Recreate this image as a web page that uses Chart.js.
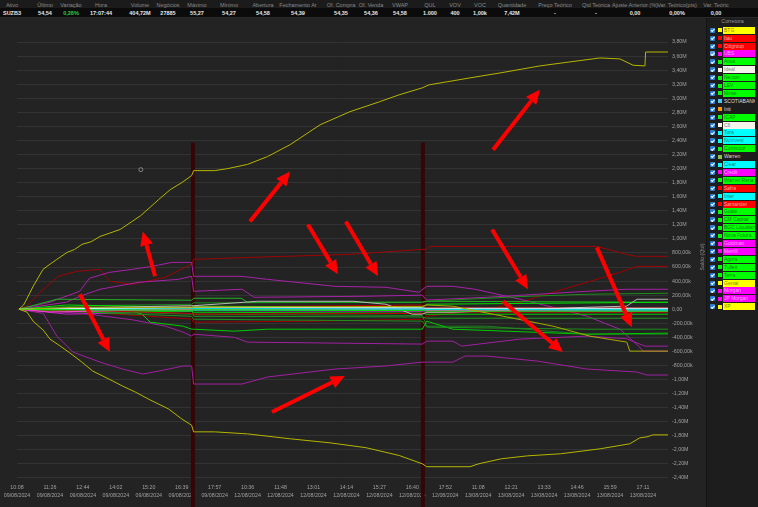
<!DOCTYPE html>
<html lang="pt-BR">
<head>
  <meta charset="UTF-8" />
  <title>SUZB3 - Saldo por Corretora</title>
  <script src="https://cdn.jsdelivr.net/npm/chart.js"></script>
  <style>
    * { box-sizing: border-box; }

    body {
      margin: 0;
      width: 758px;
      height: 507px;
      overflow: hidden;
      position: relative;
      background: #1c1c1c;
      font-family: 'Liberation Sans', Arial, sans-serif;
    }

    .quote {
      position: absolute;
      left: 0; top: 0;
      width: 758px; height: 18px;
      background: #0b0b0b;
      border-bottom: 1px solid #2a2a2a;
    }
    .quote .heads {
      position: absolute;
      left: 0; top: 0;
      width: 100%; height: 8px;
      background: #1b1b1b;
    }
    .quote span {
      position: absolute;
      transform: translateX(-50%);
      white-space: nowrap;
      font-size: 5.5px;
    }
    .quote .h { top: 1.5px; color: #8a8a8a; }
    .quote .v { top: 9.5px; color: #e6e6e6; font-weight: bold; }
    .quote .up { color: #2ecc40; }

    .chart-box {
      position: absolute;
      left: 0; top: 18px;
      width: 706px; height: 489px;
      background: #232323;
    }

    .brokers {
      position: absolute;
      left: 706px; top: 18px;
      width: 52px; height: 489px;
      background: #1d1d1d;
      border-left: 1px solid #141414;
    }
    .brokers .title {
      height: 8px;
      text-align: center;
      color: #9a9a9a;
      font-size: 5.3px;
      line-height: 7px;
    }
    .row { position: absolute; left: 0; width: 52px; height: 7px; }
    .row .cb {
      position: absolute; left: 3px; top: 1px;
      width: 5px; height: 5px;
      background: #2a7fd4; border-radius: 1px;
    }
    .row .cb::after {
      content: '';
      position: absolute; left: 1.6px; top: 0.4px;
      width: 1.2px; height: 2.6px;
      border: solid #fff; border-width: 0 0.8px 0.8px 0;
      transform: rotate(45deg);
    }
    .row .sq { position: absolute; left: 11px; top: 1.5px; width: 4px; height: 4px; }
    .row .nm {
      position: absolute; left: 16px; top: 0;
      width: 32px; height: 7px;
      padding-left: 1px;
      font-size: 5px; line-height: 7px;
      white-space: nowrap; overflow: hidden;
    }
  </style>
</head>
<body>
  <div class="quote" id="quote"><div class="heads"></div></div>
  <div class="chart-box"><canvas id="saldoChart"></canvas></div>
  <div class="brokers" id="brokers"><div class="title">Corretora</div></div>

  <script>
    // ---- quote strip ----
    const quoteHeads = ['Ativo', 'Último', 'Variação', 'Hora', 'Volume', 'Negócios', 'Máximo', 'Mínimo', 'Abertura',
      'Fechamento Ar', 'Of. Compra', 'Of. Venda', 'VWAP', 'QUL', 'VOV', 'VOC', 'Quantidade', 'Preço Teórico',
      'Qtd Teórica', 'Ajuste Anterior (%)', 'Var. Teórico(pts)', 'Var. Teóric'];
    const quoteValues = ['SUZB3', '54,54', '0,28%', '17:07:44', '404,72M', '27885', '55,27', '54,27', '54,58',
      '54,39', '54,35', '54,36', '54,58', '1.000', '400', '1,00k', '7,42M', '-', '-', '0,00', '0,00%', '0,00'];
    const quoteCols = [12, 45, 71, 101, 140, 168, 197, 229, 263, 298, 341, 371, 400, 430, 455, 480, 512, 555, 596, 635, 677, 716];

    // ---- brokers ----
    const brokerNames = ['BTG', 'Itau', 'Citigroup', 'UBS', 'Ativa', 'Ideal', 'Necton', 'LEV', 'Mirae', 'SCOTIABANK',
      'Inti', 'ICAP', 'C6', 'Tora', 'NuInvest', 'Commcor', 'Warren', 'Clear', 'Credit', 'Warren Rena', 'Safra',
      'Inter', 'Santander', 'Guide', 'CM Capital', 'BGC Liquidez', 'Nova Futura', 'Goldman', 'Merrill', 'Agora',
      'Tullett', 'Terra', 'Genial', 'Morgan', 'JP Morgan', 'XP'];
    const brokerColors = ['#ffff00', '#ff0000', '#ff0000', '#ff00ff', '#00ff00', '#f4f4ec', '#00ff00', '#00ff00', '#00ff00', '#4fc3f7',
      '#ff9800', '#00ff00', '#f4f4ec', '#00ffff', '#00ffff', '#00ff00', '#8bc34a', '#00ffff', '#ff00ff', '#00ff00', '#ff0000',
      '#00ffff', '#ff0000', '#00ff00', '#00ff00', '#00ff00', '#00ff00', '#ff00ff', '#ff00ff', '#00ff00',
      '#00ff00', '#00ff00', '#ffff00', '#ff00ff', '#ff00ff', '#ffff00'];
    const plainRows = ['SCOTIABANK', 'Inti', 'Warren'];

    // ---- axes ----
    const xTickTimes = ['10:08', '11:26', '12:44', '14:02', '15:20', '16:39', '17:57', '10:36', '11:48', '13:01',
      '14:14', '15:27', '16:40', '17:52', '11:08', '12:21', '13:33', '14:46', '15:59', '17:11'];
    const xTickDates = ['09/08/2024', '09/08/2024', '09/08/2024', '09/08/2024', '09/08/2024', '09/08/2024', '09/08/2024',
      '12/08/2024', '12/08/2024', '12/08/2024', '12/08/2024', '12/08/2024', '12/08/2024', '12/08/2024',
      '13/08/2024', '13/08/2024', '13/08/2024', '13/08/2024', '13/08/2024', '13/08/2024'];
    const yTickValues = [-2400, -2200, -2000, -1800, -1600, -1400, -1200, -1000, -800, -600, -400, -200, 0,
      200, 400, 600, 800, 1000, 1200, 1400, 1600, 1800, 2000, 2200, 2400, 2600, 2800, 3000, 3200, 3400, 3600, 3800];
    const dayBreaks = [5.34, 12.32];
    const breakTop = 2370;

    // ---- saldo (k) per broker, [tick position, value] ----
    const btgSaldo = [[0.06, 0], [0.2, 60], [0.3, 150], [0.49, 326], [0.79, 567], [1.0, 640], [1.21, 709], [1.52, 808],
      [1.75, 850], [1.97, 922], [2.25, 960], [2.52, 1035], [2.8, 1080], [3.13, 1134], [3.5, 1250], [3.75, 1330],
      [4.04, 1450], [4.3, 1560], [4.65, 1700], [5.0, 1800], [5.3, 1900], [5.36, 1971], [6.0, 1971], [6.4, 2000],
      [7.0, 2060], [7.6, 2170], [8.29, 2340], [9.2, 2623], [10.1, 2808], [11.0, 2950], [11.6, 3049], [12.3, 3148],
      [12.5, 3190], [13.75, 3290], [14.66, 3360], [15.87, 3460], [16.78, 3517], [17.69, 3573], [18.3, 3560],
      [18.7, 3470], [19.06, 3460], [19.08, 3658], [19.76, 3658]];
    const xpSaldo = [[0.06, 0], [0.3, -40], [0.49, -170], [0.8, -300], [1.0, -425], [1.3, -520], [1.6, -620],
      [1.97, -752], [2.3, -880], [2.82, -1000], [3.2, -1092], [3.6, -1180], [4.04, -1290], [4.6, -1418], [5.0, -1560],
      [5.3, -1650], [5.36, -1744], [6.0, -1744], [7.0, -1773], [8.3, -1843], [9.5, -1900], [10.6, -1970],
      [11.6, -2080], [12.3, -2198], [12.44, -2240], [13.75, -2240], [14.0, -2200], [14.7, -2127], [15.5, -2085],
      [16.5, -2056], [17.7, -1985], [18.6, -1914], [18.9, -1830], [19.12, -1815], [19.3, -1787], [19.76, -1787]];
    const genialSaldo = [[0.06, 0], [2.0, 30], [5.3, 20], [5.36, 30], [12.3, 40], [12.44, 60], [13.23, 43],
      [14.75, -99], [16.27, -241], [17.39, -383], [18.51, -468], [18.6, -596], [19.76, -596]];
    const ubsSaldo = [[0.06, 0], [1.0, 100], [1.9, 255], [2.2, 440], [2.8, 524], [3.5, 567], [4.1, 610], [4.7, 666],
      [5.3, 666], [5.36, 468], [6.8, 468], [7.6, 425], [9.65, 326], [11.2, 312], [12.2, 241], [12.44, 326],
      [13.23, 326], [13.9, 284], [15.27, 142], [16.27, 28], [17.3, -99], [18.3, -284], [18.9, -539], [19.0, -596],
      [19.76, -596]];
    const goldmanSaldo = [[0.06, 0], [1.5, 100], [1.91, 184], [2.52, 284], [3.7, 383], [4.9, 425], [5.3, 468],
      [5.36, 255], [6.83, 284], [7.2, 170], [10.5, 184], [12.3, 200], [12.44, 130], [14.26, 170], [17.3, 255],
      [18.5, 284], [19.76, 284]];
    const morganSaldo = [[0.06, 0], [0.8, -60], [1.21, -383], [1.7, -610], [2.52, -752], [3.2, -850], [3.82, -922],
      [4.4, -870], [5.04, -808], [5.3, -808], [5.36, -1064], [6.83, -1064], [7.6, -964], [9.65, -851], [11.17, -808],
      [12.3, -752], [13.23, -752], [13.6, -666], [14.26, -666], [15.78, -737], [17.3, -851], [18.82, -893],
      [19.12, -936], [19.76, -936]];
    const merrillSaldo = [[0.06, 0], [2.0, -60], [3.5, -150], [4.5, -240], [5.04, -326], [5.3, -383], [5.36, -355],
      [6.6, -400], [7.0, -468], [12.3, -496], [12.44, -454], [13.23, -454], [13.5, -525], [15.27, -425],
      [17.3, -383], [18.5, -420], [19.06, -525], [19.76, -525]];
    const jpMorganSaldo = [[0.06, 0], [1.0, -40], [3.0, -20], [5.3, -10], [5.36, 20], [12.3, 10], [12.44, -20],
      [19.76, -30]];
    const creditSaldo = [[0.06, 0], [1.5, -70], [3.5, -50], [5.3, -30], [5.36, -20], [12.3, -30], [12.44, -10],
      [19.76, -14]];
    const itauSaldo = [[0.06, 0], [0.3, 43], [0.7, 241], [1.25, 468], [1.82, 539], [2.52, 567], [2.82, 397],
      [3.5, 355], [4.5, 454], [5.16, 610], [5.3, 638], [5.36, 709], [7.07, 737], [10.1, 780], [12.3, 851],
      [12.44, 851], [12.53, 893], [17.6, 893], [18.5, 780], [18.8, 752], [19.76, 752]];
    const citiSaldo = [[0.06, 0], [2.0, -40], [4.0, -100], [5.3, -140], [5.36, -184], [9.0, -170], [12.3, -142],
      [12.44, -99], [14.26, 0], [15.27, 99], [16.27, 241], [17.3, 383], [18.3, 525], [18.82, 610], [19.76, 610]];
    const safraSaldo = [[0.06, 0], [3.0, 30], [5.3, 40], [5.36, 30], [12.3, 60], [12.44, 20], [19.76, 20]];
    const santanderSaldo = [[0.06, 0], [3.0, -30], [5.3, -60], [5.36, -70], [12.3, -60], [12.44, -40], [19.76, -43]];
    const idealSaldo = [[0.06, 0], [3.0, 30], [5.3, 50], [5.36, 50], [6.9, 99], [7.3, 113], [10.2, 113],
      [11.2, 71], [12.0, -71], [12.3, -71], [12.44, -43], [13.23, -43], [17.3, 28], [18.5, 43], [18.82, 142],
      [19.76, 142]];
    const c6Saldo = [[0.06, 0], [2.0, 10], [5.3, 25], [5.36, 28], [12.3, 20], [12.44, 14], [19.76, 14]];
    const ativaSaldo = [[0.06, 0], [2.0, -10], [5.3, -15], [5.36, -10], [12.3, -20], [12.44, -28], [19.76, -28]];
    const nectonSaldo = [[0.06, 0], [1.21, 142], [5.3, 128], [5.36, 156], [6.8, 156], [7.0, 99], [12.3, 99],
      [12.44, 113], [19.76, 99]];
    const levSaldo = [[0.06, 0], [3.5, -30], [3.8, -71], [4.04, -184], [5.04, -241], [5.3, -284], [5.36, -284],
      [6.6, -312], [7.6, -284], [12.3, -284], [12.44, -170], [13.23, -284], [17.3, -355], [19.76, -340]];
    const miraeSaldo = [[0.06, 0], [2.0, 50], [5.3, 70], [5.36, 90], [12.3, 100], [12.44, 113], [15.3, 180],
      [17.3, 213], [19.76, 227]];
    const icapSaldo = [[0.06, 0], [3.0, -60], [5.3, -100], [5.36, -142], [12.3, -170], [12.44, -255],
      [17.3, -284], [19.76, -284]];
    const commcorSaldo = [[0.06, 0], [1.5, 60], [5.3, 28], [5.36, 43], [12.3, 28], [12.44, 71], [19.76, 99]];
    const warrenRenaSaldo = [[0.06, 0], [2.5, -40], [5.3, -28], [5.36, -43], [12.3, -57], [12.44, -71], [19.76, -71]];
    const cmCapitalSaldo = [[0.06, 0], [4.0, 10], [5.3, 10], [5.36, -100], [12.3, -110], [12.44, -128],
      [19.76, -128]];
    const terraSaldo = [[0.06, 0], [3.0, -40], [5.3, -71], [5.36, -71], [12.3, -90], [12.44, -241], [14.26, -241],
      [17.3, -355], [19.76, -355]];
    const agoraSaldo = [[0.06, 0], [5.3, -5], [5.36, 5], [19.76, 10]];
    const toraSaldo = [[0.06, 0], [5.3, 10], [5.36, 10], [12.3, 0], [19.76, -10]];
    const clearSaldo = [[0.06, 0], [2.0, 20], [5.3, 14], [5.36, 14], [12.3, 14], [12.44, 0], [19.76, 0]];
    const interSaldo = [[0.06, 0], [5.3, -20], [5.36, -14], [12.3, -14], [19.76, -20]];
    const scotiaSaldo = [[0.06, 0], [5.3, 5], [5.36, 5], [19.76, 8]];
    const intiSaldo = [[0.06, 0], [5.3, -5], [5.36, -5], [19.76, -5]];
    const cursorMark = [[3.76, 1985]];

    // red arrows: [fromX, fromY, toX, toY]
    const arrows = [
      [4.19, 468, 3.82, 1106],
      [1.91, 213, 2.82, -610],
      [7.07, 1248, 8.29, 1957],
      [7.74, -1461, 9.95, -950],
      [8.83, 1205, 9.74, 496],
      [9.98, 1248, 10.96, 468],
      [14.45, 2269, 15.87, 3120],
      [14.42, 1134, 15.51, 284],
      [14.75, 113, 16.57, -610],
      [17.6, 879, 18.66, -255]
    ];

    const series = [
      ['BTG', btgSaldo, '#b5b500'],
      ['XP', xpSaldo, '#b5b500'],
      ['Genial', genialSaldo, '#a8a800'],
      ['Ativa', ativaSaldo, '#00e600'],
      ['C6', c6Saldo, '#eeeeee'],
      ['Tora', toraSaldo, '#00d8d8'],
      ['Clear', clearSaldo, '#00d0e0'],
      ['JP Morgan', jpMorganSaldo, '#ff3fd0'],
      ['Ideal', idealSaldo, '#b8b8b8'],
      ['Commcor', commcorSaldo, '#00dd00'],
      ['Necton', nectonSaldo, '#22b022'],
      ['Inter', interSaldo, '#00c8c8'],
      ['SCOTIABANK', scotiaSaldo, '#4fc3f7'],
      ['Inti', intiSaldo, '#e08a00'],
      ['Safra', safraSaldo, '#b00000'],
      ['Santander', santanderSaldo, '#c00000'],
      ['Warren Rena', warrenRenaSaldo, '#00d000'],
      ['CM Capital', cmCapitalSaldo, '#1f9a1f'],
      ['Agora', agoraSaldo, '#19c019'],
      ['Mirae', miraeSaldo, '#1c8c1c'],
      ['ICAP', icapSaldo, '#1f8f1f'],
      ['LEV', levSaldo, '#00cc00'],
      ['Terra', terraSaldo, '#1e7e1e'],
      ['Credit', creditSaldo, '#c020c0'],
      ['UBS', ubsSaldo, '#a822a8'],
      ['Goldman', goldmanSaldo, '#a822a8'],
      ['Merrill', merrillSaldo, '#a020a0'],
      ['Morgan', morganSaldo, '#a020a0'],
      ['Itau', itauSaldo, '#9c0606'],
      ['Citigroup', citiSaldo, '#a00000']
    ];

    // quote strip
    const quote = document.getElementById('quote');
    quoteHeads.forEach((h, i) => {
      const head = document.createElement('span');
      head.className = 'h';
      head.style.left = quoteCols[i] + 'px';
      head.textContent = h;
      quote.appendChild(head);
      const val = document.createElement('span');
      val.className = 'v' + (i === 2 ? ' up' : '');
      val.style.left = quoteCols[i] + 'px';
      val.textContent = quoteValues[i];
      quote.appendChild(val);
    });

    // broker list
    const brokers = document.getElementById('brokers');
    const lightBoxes = ['#ffff00', '#00ff00', '#f4f4ec', '#00ffff'];
    brokerNames.forEach((name, i) => {
      const row = document.createElement('div');
      row.className = 'row';
      row.style.top = (8.7 + i * 7.9) + 'px';
      const boxed = !plainRows.includes(name);
      const color = brokerColors[i];
      const txt = boxed ? (lightBoxes.includes(color) ? 'rgba(0,0,0,0.55)' : 'rgba(255,255,255,0.65)') : '#dddddd';
      row.innerHTML = `<div class="cb"${name === 'UBS' ? ' style="background:#5aa0e6"' : ''}></div>` +
        `<div class="sq" style="background:${color}"></div>` +
        `<div class="nm" style="background:${boxed ? color : 'transparent'};color:${txt}">${name}</div>`;
      brokers.appendChild(row);
    });

    const fmtSaldo = (v) => {
      if (v === 0) return '0,00';
      if (Math.abs(v) >= 1000) return (v / 1000).toFixed(2).replace('.', ',') + 'M';
      return v.toFixed(2).replace('.', ',') + 'k';
    };

    const drawArrow = (ctx, x1, y1, x2, y2) => {
      const ang = Math.atan2(y2 - y1, x2 - x1);
      const headLen = 14, headW = 6.5;
      const bx = x2 - headLen * Math.cos(ang);
      const by = y2 - headLen * Math.sin(ang);
      ctx.beginPath();
      ctx.moveTo(x1, y1);
      ctx.lineTo(bx, by);
      ctx.stroke();
      ctx.beginPath();
      ctx.moveTo(x2, y2);
      ctx.lineTo(bx + headW * Math.sin(ang), by - headW * Math.cos(ang));
      ctx.lineTo(bx - headW * Math.sin(ang), by + headW * Math.cos(ang));
      ctx.closePath();
      ctx.fill();
    };

    const decorations = {
      id: 'decorations',
      beforeDatasetsDraw(chart) {
        const { ctx, scales: { x, y } } = chart;
        ctx.save();
        ctx.fillStyle = '#360606';
        const top = y.getPixelForValue(breakTop);
        dayBreaks.forEach(d => {
          const px = x.getPixelForValue(d);
          ctx.fillRect(px - 2, top, 4, chart.height - top);
        });
        ctx.restore();
      },
      afterDraw(chart) {
        const { ctx, scales: { x, y } } = chart;
        ctx.save();
        ctx.strokeStyle = '#ff0000';
        ctx.fillStyle = '#ff0000';
        ctx.lineWidth = 4;
        ctx.lineCap = 'butt';
        arrows.forEach(a => drawArrow(ctx, x.getPixelForValue(a[0]), y.getPixelForValue(a[1]),
          x.getPixelForValue(a[2]), y.getPixelForValue(a[3])));
        ctx.translate(703, 239);
        ctx.rotate(-Math.PI / 2);
        ctx.fillStyle = '#8a8a8a';
        ctx.font = "5.3px 'Liberation Sans'";
        ctx.textAlign = 'center';
        ctx.textBaseline = 'middle';
        ctx.fillText('Saldo (Qtd)', 0, 0);
        ctx.restore();
      }
    };

    const datasets = series.map(([label, data, color]) => ({
      label,
      data,
      borderColor: color,
      borderWidth: 1,
      pointRadius: 0,
      tension: 0,
      fill: false
    }));
    datasets.push({
      label: 'cursor',
      data: cursorMark,
      showLine: false,
      pointRadius: 2,
      pointBorderWidth: 0.8,
      pointBorderColor: '#9a9a9a',
      pointBackgroundColor: 'rgba(0,0,0,0)'
    });

    new Chart(document.getElementById('saldoChart'), {
      type: 'line',
      data: { datasets },
      options: {
        responsive: true,
        maintainAspectRatio: false,
        animation: false,
        layout: { padding: { left: 17, top: 20.5, right: 0, bottom: 0 } },
        plugins: { legend: { display: false }, tooltip: { enabled: false } },
        scales: {
          x: {
            type: 'linear',
            min: 0,
            max: 19.76,
            afterBuildTicks: (scale) => { scale.ticks = xTickTimes.map((t, i) => ({ value: i })); },
            afterFit: (scale) => { scale.height = 25.5; },
            grid: { display: false, drawTicks: false },
            border: { display: false },
            ticks: {
              autoSkip: false,
              maxRotation: 0,
              padding: 2.5,
              color: '#a0a0a0',
              font: { family: "'Liberation Sans'", size: 5.3, lineHeight: 1.5 },
              callback: (v) => xTickTimes[v] ? [xTickTimes[v], xTickDates[v]] : ''
            }
          },
          y: {
            position: 'right',
            min: -2450,
            max: 3850,
            afterBuildTicks: (scale) => { scale.ticks = yTickValues.map(v => ({ value: v })); },
            afterFit: (scale) => { scale.width = 38; },
            grid: { color: '#333333', lineWidth: 1, drawTicks: false },
            border: { display: false },
            ticks: {
              padding: 4,
              color: '#a0a0a0',
              font: { family: "'Liberation Sans'", size: 5.3 },
              callback: (v) => fmtSaldo(v)
            }
          }
        }
      },
      plugins: [decorations]
    });
  </script>
</body>
</html>
